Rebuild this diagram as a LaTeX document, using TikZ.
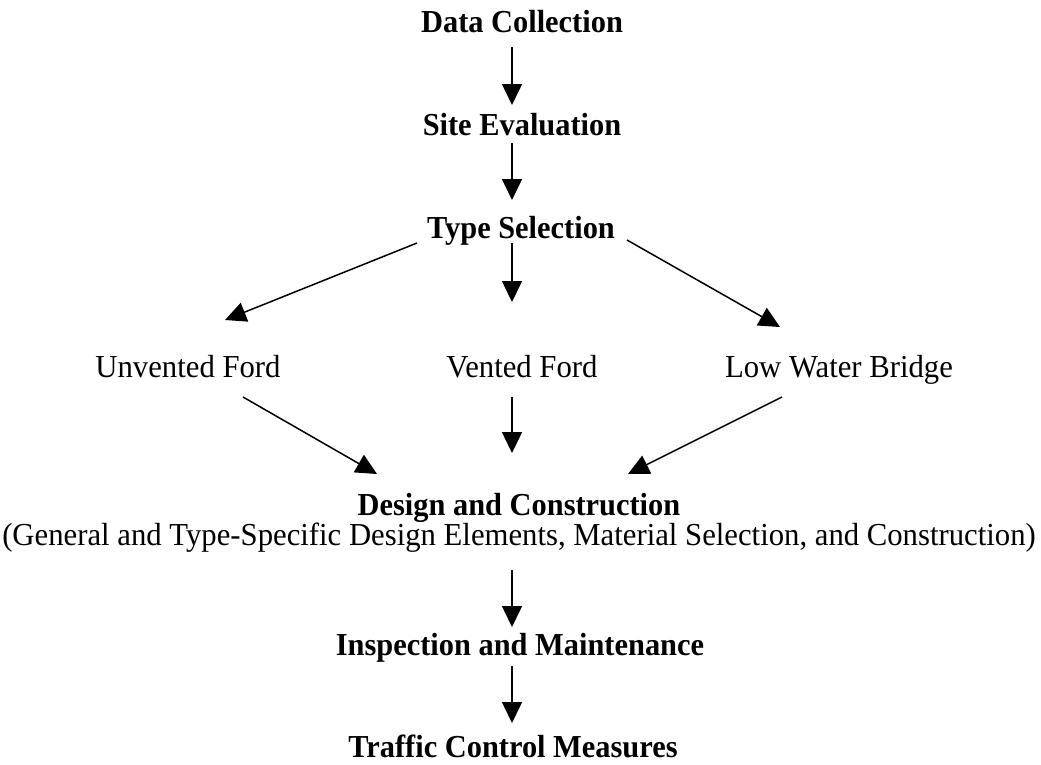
\documentclass[tikz,border=0pt]{standalone}
\usepackage{fontspec}
\setmainfont{Liberation Serif}[FakeStretch=0.96,BoldFeatures={FakeStretch=0.95}]
\usetikzlibrary{arrows.meta,calc}
\tikzset{
  lbl/.style={anchor=base,inner sep=0pt,font=\fontsize{32}{30}\selectfont},
  blbl/.style={lbl,font=\fontsize{32}{30}\selectfont\bfseries},
  arr/.style={line width=1.5pt,-{Triangle[length=21pt,width=20pt]}}
}
\begin{document}
\begin{tikzpicture}[x=1pt,y=-1pt]
\useasboundingbox (0,0) rectangle (1041,764);
\node[blbl] (dc) at (522,32) {Data Collection};
\node[blbl] (se) at (522,135) {Site Evaluation};
\node[blbl] (ts) at (521,238) {Type Selection};
\node[lbl] (uf) at (188,377) {Unvented Ford};
\node[lbl] (vf) at (522,377) {Vented Ford};
\node[lbl] (lwb) at (839,377) {Low Water Bridge};
\node[lbl,align=center] (dcn) at (519,545) {\textbf{Design and Construction}\\(General and Type-Specific Design Elements, Material Selection, and Construction)};
\node[blbl] (im) at (520,655) {Inspection and Maintenance};
\node[blbl] (tcm) at (513,757) {Traffic Control Measures};

\draw[arr] ($(dc.base)+(-10,15)$) -- ($(se.base)+(-10,-30)$);
\draw[arr] ($(se.base)+(-10,8)$) -- ($(ts.base)+(-9,-38)$);
\draw[arr] ($(ts.base)+(-9,5)$) -- ($(vf.base)+(-10,-75)$);
\draw[arr] ($(ts.base)+(-104,5)$) -- ($(uf.base)+(37,-57)$);
\draw[arr] ($(ts.base)+(106,2)$) -- ($(lwb.base)+(-59,-50)$);
\draw[arr] ($(uf.base)+(55,20)$) -- ($(dcn.base)+(-142,-71)$);
\draw[arr] ($(vf.base)+(-10,20)$) -- ($(dcn.base)+(-7,-92)$);
\draw[arr] ($(lwb.base)+(-57,20)$) -- ($(dcn.base)+(109,-71)$);
\draw[arr] ($(dcn.base)+(-7,25)$) -- ($(im.base)+(-8,-28)$);
\draw[arr] ($(im.base)+(-8,11)$) -- ($(tcm.base)+(-1,-34)$);
\end{tikzpicture}
\end{document}
